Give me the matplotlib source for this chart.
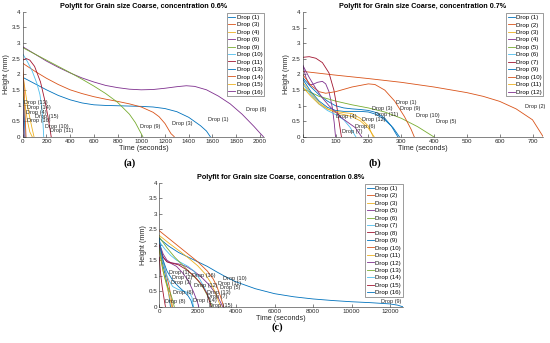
import numpy as np
import matplotlib.pyplot as plt
from matplotlib.ticker import FormatStrFormatter

plt.rcParams['font.family'] = ['Liberation Sans', 'DejaVu Sans']

# MATLAB default line colours
colors = ['#0072BD', '#D95319', '#EDB120', '#7E2F8E', '#77AC30', '#4DBEEE', '#A2142F']

# ---------------- panel (a): concentration 0.6% ----------------
a_drops = [1, 3, 4, 6, 9, 10, 11, 13, 14, 15, 16]
a_times = [
    [0, 100, 200, 300, 400, 500, 600, 700, 800, 900, 1000, 1100, 1200, 1300, 1400, 1500, 1550, 1582],
    [0, 100, 200, 300, 400, 500, 600, 700, 800, 900, 1000, 1100, 1150, 1200, 1250, 1278],
    [0, 20, 40, 60, 80, 95],
    [0, 100, 200, 300, 400, 500, 600, 700, 800, 900, 1000, 1100, 1200, 1300, 1380, 1450, 1550, 1650, 1750, 1850, 1950, 2000, 2030],
    [0, 100, 200, 300, 400, 500, 600, 700, 800, 900, 950, 1013],
    [0, 40, 80, 120, 145, 160, 170, 177],
    [0, 30, 60, 100, 150, 190, 215, 232, 240],
    [0, 5, 10, 15, 20],
    [0, 8, 16, 22, 28],
    [0, 20, 40, 60, 80],
    [0, 4, 8, 12],
]
a_heights = [
    [1.9, 1.7, 1.5, 1.32, 1.18, 1.08, 1.02, 1.0, 0.99, 0.98, 0.97, 0.95, 0.9, 0.8, 0.62, 0.35, 0.18, 0],
    [2.35, 2.1, 1.87, 1.67, 1.5, 1.38, 1.28, 1.2, 1.13, 1.05, 0.95, 0.78, 0.64, 0.42, 0.1, 0],
    [2.0, 1.5, 1.0, 0.6, 0.25, 0],
    [2.88, 2.65, 2.42, 2.22, 2.04, 1.88, 1.75, 1.64, 1.57, 1.52, 1.5, 1.51, 1.55, 1.6, 1.63, 1.61, 1.5, 1.3, 1.05, 0.72, 0.33, 0.12, 0],
    [2.85, 2.65, 2.45, 2.25, 2.05, 1.84, 1.62, 1.38, 1.1, 0.72, 0.45, 0],
    [2.65, 2.4, 2.1, 1.7, 1.35, 0.95, 0.5, 0],
    [2.45, 2.5, 2.45, 2.25, 1.75, 1.1, 0.6, 0.2, 0],
    [2.0, 1.5, 1.0, 0.5, 0],
    [2.3, 1.8, 1.1, 0.5, 0],
    [1.5, 1.0, 0.5, 0.15, 0],
    [1.2, 0.7, 0.3, 0],
]
a_text_t = [1565, 1257, 28, 1880, 990, 190, 231, 11, 34, 104, 39]
a_text_h = [0.54, 0.43, 0.78, 0.87, 0.31, 0.34, 0.19, 1.09, 0.94, 0.66, 0.51]

# ---------------- panel (b): concentration 0.7% ----------------
b_drops = [1, 2, 3, 4, 5, 6, 7, 9, 10, 11, 12]
b_times = [
    [0, 25, 50, 75, 100, 125, 150, 175, 200, 225, 250, 270, 290],
    [0, 100, 200, 300, 400, 500, 550, 600, 650, 700, 733],
    [0, 25, 50, 75, 100, 125, 150, 175, 200, 218],
    [0, 10, 20, 30, 45, 60, 70, 80, 90, 96, 100],
    [0, 50, 100, 150, 200, 250, 300, 350, 400],
    [0, 25, 50, 75, 100, 125, 145, 162],
    [0, 20, 40, 60, 80, 95, 105, 112, 118],
    [0, 25, 50, 75, 100, 125, 150, 175, 200, 225, 250, 275, 295],
    [0, 25, 50, 70, 100, 150, 200, 220, 250, 280, 310, 330, 340],
    [0, 25, 50, 75, 100, 125, 150, 175, 200, 215],
    [0, 20, 40, 60, 80, 100, 120, 140, 160, 180],
]
b_heights = [
    [1.9, 1.6, 1.35, 1.15, 1.0, 0.93, 0.9, 0.88, 0.85, 0.78, 0.6, 0.35, 0],
    [2.1, 1.98, 1.87, 1.75, 1.6, 1.42, 1.3, 1.14, 0.9, 0.55, 0],
    [1.75, 1.4, 1.1, 0.9, 0.78, 0.72, 0.65, 0.52, 0.28, 0],
    [2.3, 1.9, 1.68, 1.68, 1.75, 1.78, 1.7, 1.45, 0.95, 0.45, 0],
    [1.55, 1.3, 1.15, 1.03, 0.93, 0.8, 0.6, 0.33, 0],
    [1.7, 1.35, 1.05, 0.85, 0.72, 0.55, 0.3, 0],
    [2.55, 2.57, 2.52, 2.38, 2.05, 1.5, 0.9, 0.4, 0],
    [1.85, 1.45, 1.15, 0.95, 0.85, 0.82, 0.82, 0.82, 0.8, 0.72, 0.55, 0.3, 0],
    [2.0, 1.65, 1.45, 1.4, 1.45, 1.6, 1.7, 1.68, 1.5, 1.15, 0.65, 0.25, 0],
    [1.6, 1.3, 1.05, 0.9, 0.82, 0.78, 0.75, 0.6, 0.35, 0],
    [2.3, 1.9, 1.55, 1.25, 1.0, 0.8, 0.6, 0.45, 0.3, 0],
]
b_text_t = [284, 676, 211, 102, 406, 160, 119, 297, 345, 219, 180]
b_text_h = [1.09, 0.98, 0.9, 0.64, 0.51, 0.34, 0.19, 0.91, 0.69, 0.73, 0.55]

# ---------------- panel (c): concentration 0.8% ----------------
c_drops = [1, 2, 3, 5, 6, 7, 8, 9, 10, 11, 12, 13, 14, 15, 16]
c_times = [
    [0, 100, 200, 300, 400, 500, 580],
    [0, 100, 200, 300, 400, 500, 600, 680],
    [0, 100, 200, 300, 400, 500, 600, 650],
    [0, 200, 400, 600, 1000, 1400, 1800, 2200, 2600, 2900, 3100, 3300],
    [0, 100, 200, 300, 400, 500, 600, 700, 780],
    [0, 300, 600, 900, 1200, 1500, 1800, 2100, 2400, 2600, 2700],
    [0, 50, 100, 150, 200, 250, 320],
    [0, 500, 1000, 1500, 2000, 2500, 3000, 3500, 4000, 5000, 6000, 7000, 8000, 9000, 10000, 11000, 12000, 12400, 12660],
    [0, 500, 1000, 1500, 2000, 2500, 2800, 3000, 3200, 3350],
    [0, 500, 1000, 1500, 2000, 2400, 2700, 2950, 3100, 3200],
    [0, 200, 400, 600, 900, 1200, 1500, 1800, 2000, 2050],
    [0, 400, 800, 1200, 1600, 2000, 2300, 2550, 2750],
    [0, 100, 200, 300, 400, 500, 700, 1000, 1300, 1600, 1700, 1750, 1780],
    [0, 200, 400, 700, 1000, 1400, 1800, 2200, 2500, 2700],
    [0, 100, 200, 400, 700, 1000, 1300, 1500, 1650, 1750],
]
c_heights = [
    [1.9, 1.6, 1.3, 1.05, 0.75, 0.4, 0],
    [2.0, 1.7, 1.45, 1.2, 0.95, 0.7, 0.35, 0],
    [1.8, 1.45, 1.15, 0.9, 0.65, 0.4, 0.15, 0],
    [2.05, 1.7, 1.5, 1.42, 1.38, 1.3, 1.15, 0.95, 0.7, 0.45, 0.25, 0],
    [1.9, 1.5, 1.15, 0.9, 0.7, 0.55, 0.4, 0.2, 0],
    [2.1, 1.85, 1.65, 1.5, 1.4, 1.3, 1.15, 0.9, 0.55, 0.25, 0],
    [1.6, 1.2, 0.9, 0.65, 0.45, 0.25, 0],
    [2.2, 1.95, 1.75, 1.6, 1.45, 1.3, 1.12, 0.95, 0.8, 0.58, 0.42, 0.32, 0.25, 0.2, 0.16, 0.13, 0.09, 0.05, 0],
    [2.45, 2.2, 1.95, 1.7, 1.45, 1.15, 0.9, 0.65, 0.3, 0],
    [2.3, 2.05, 1.82, 1.58, 1.32, 1.05, 0.75, 0.4, 0.15, 0],
    [1.95, 1.6, 1.45, 1.4, 1.3, 1.1, 0.85, 0.45, 0.12, 0],
    [2.25, 1.9, 1.6, 1.35, 1.1, 0.85, 0.6, 0.3, 0],
    [2.1, 1.75, 1.45, 1.2, 1.0, 0.85, 0.65, 0.55, 0.5, 0.42, 0.3, 0.1, 0],
    [2.0, 1.6, 1.45, 1.4, 1.35, 1.2, 1.0, 0.72, 0.4, 0],
    [2.2, 1.8, 1.5, 1.15, 0.85, 0.65, 0.48, 0.35, 0.2, 0],
]
c_text_t = [520, 640, 590, 3170, 730, 2470, 300, 11510, 3290, 3080, 1810, 2500, 1740, 2610, 1690]
c_text_h = [1.10, 0.95, 0.77, 0.62, 0.47, 0.32, 0.18, 0.18, 0.91, 0.75, 0.70, 0.46, 0.19, 0.05, 1.0]

fig = plt.figure(figsize=(5.5, 3.43), dpi=100)
grey = '#262626'


def panel(rect, title, drops, times, heights, text_t, text_h, xmax, xticks, letter, letter_xy):
    ax = fig.add_axes(rect)
    for i, d in enumerate(drops):
        ax.plot(times[i], heights[i], color=colors[i % 7], lw=0.6, label='Drop (%d)' % d)
    for i, d in enumerate(drops):
        ax.text(text_t[i], text_h[i], 'Drop (%d)' % d, fontsize=4, va='center', ha='left', color=grey)
    ax.set_xlim(0, xmax)
    ax.set_ylim(0, 4)
    ax.set_xticks(xticks)
    ax.set_yticks(np.arange(0, 4.01, 0.5))
    ax.yaxis.set_major_formatter(FormatStrFormatter('%g'))
    ax.tick_params(direction='in', length=2, width=0.4, labelsize=4.5, colors=grey, pad=1.5)
    for s in ['top', 'right']:
        ax.spines[s].set_visible(False)
    for s in ['left', 'bottom']:
        ax.spines[s].set_linewidth(0.4)
        ax.spines[s].set_color(grey)
    ax.set_title(title, fontsize=5.2, fontweight='bold', pad=3)
    ax.set_xlabel('Time (seconds)', fontsize=5.2, labelpad=1, color=grey)
    ax.set_ylabel('Height (mm)', fontsize=5.2, labelpad=1, color=grey)
    leg = ax.legend(loc='upper right', bbox_to_anchor=(1.0, 0.99), fontsize=4.4, frameon=True,
                    fancybox=False, borderaxespad=0, handlelength=1.2, handletextpad=0.2,
                    labelspacing=0.36, borderpad=0.25)
    leg.get_frame().set_linewidth(0.4)
    leg.get_frame().set_edgecolor(grey)
    fig.text(letter_xy[0] / 550, 1 - letter_xy[1] / 343, letter, fontsize=7.5, fontweight='bold',
             family='Liberation Serif', ha='center', va='center')
    return ax


panel([0.0413, 0.6015, 0.4387, 0.3644], 'Polyfit for Grain size Coarse, concentration 0.6%',
      a_drops, a_times, a_heights, a_text_t, a_text_h, 2035, np.arange(0, 2001, 200), '(a)', (130, 163))
panel([0.5504, 0.6006, 0.4375, 0.3644], 'Polyfit for Grain size Coarse, concentration 0.7%',
      b_drops, b_times, b_heights, b_text_t, b_text_h, 733, np.arange(0, 701, 100), '(b)', (375, 163))
panel([0.2896, 0.1058, 0.4425, 0.3615], 'Polyfit for Grain size Coarse, concentration 0.8%',
      c_drops, c_times, c_heights, c_text_t, c_text_h, 12660, np.arange(0, 12001, 2000), '(c)', (277, 327))

fig.savefig('out.png', dpi=100)
